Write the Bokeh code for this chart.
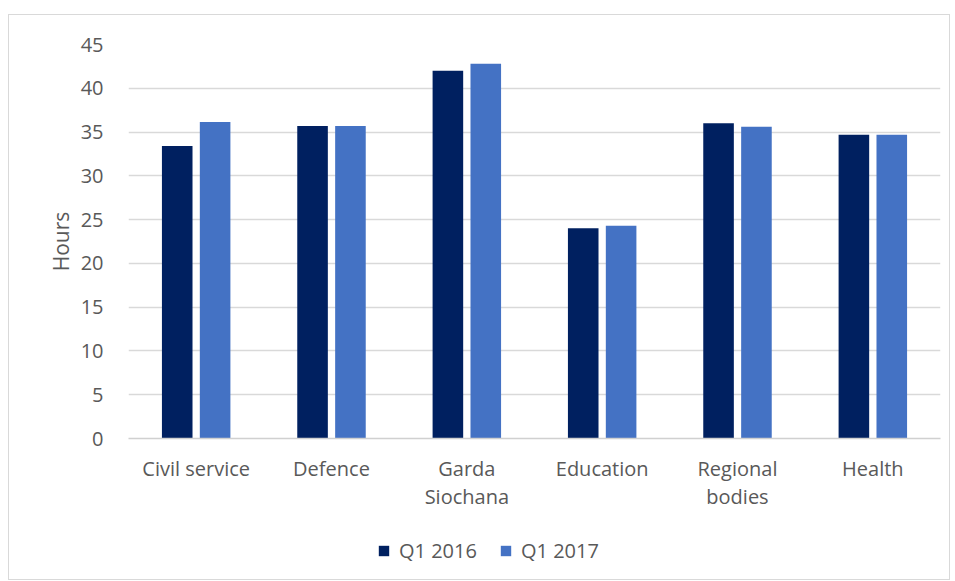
from bokeh.plotting import figure
from bokeh.layouts import column
from bokeh.models import ColumnDataSource, Legend, LegendItem, FixedTicker, Range1d
from bokeh.transform import dodge
from bokeh.embed import file_html
from bokeh.resources import INLINE

categories = ["Civil service", "Defence", "Garda\nSiochana", "Education", "Regional\nbodies", "Health"]
q1_2016 = [33.4, 35.7, 42.0, 24.0, 36.0, 34.7]
q1_2017 = [36.15, 35.7, 42.8, 24.3, 35.6, 34.7]
series_names = ["Q1 2016", "Q1 2017"]
series_colors = ["#002060", "#4472C4"]
y_ticks = [0, 5, 10, 15, 20, 25, 30, 35, 40, 45]

FONT = "Open Sans"
TXT = "#595959"

pos = [i + 0.5 for i in range(len(categories))]
src = ColumnDataSource(dict(pos=pos, a=q1_2016, b=q1_2017))

p = figure(x_range=(0, len(categories)), y_range=(0, 45), width=940, height=497,
           output_backend="svg", toolbar_location=None,
           min_border_left=119, min_border_right=9, min_border_top=29, min_border_bottom=72)
p.outline_line_color = None

p.vbar(x=dodge("pos", -0.14), top="a", width=0.226, source=src,
       fill_color=series_colors[0], line_color=None)
p.vbar(x=dodge("pos", 0.14), top="b", width=0.226, source=src,
       fill_color=series_colors[1], line_color=None)

p.yaxis.ticker = FixedTicker(ticks=y_ticks)
p.yaxis.axis_line_color = None
p.yaxis.major_tick_line_color = None
p.yaxis.minor_tick_line_color = None
p.yaxis.major_label_text_font = FONT
p.yaxis.major_label_text_font_size = "20px"
p.yaxis.major_label_text_color = TXT
p.yaxis.major_label_standoff = 19
p.yaxis.axis_label = "Hours"
p.yaxis.axis_label_text_font = FONT
p.yaxis.axis_label_text_font_size = "21px"
p.yaxis.axis_label_text_font_style = "normal"
p.yaxis.axis_label_text_color = TXT
p.yaxis.axis_label_standoff = 3

p.xaxis.ticker = FixedTicker(ticks=pos)
p.xaxis.major_label_overrides = {pos[i]: categories[i] for i in range(len(categories))}
p.xaxis.axis_line_color = "#d0d0d0"
p.xaxis.axis_line_width = 1.5
p.xaxis.major_tick_line_color = None
p.xaxis.minor_tick_line_color = None
p.xaxis.major_label_text_font = FONT
p.xaxis.major_label_text_font_size = "20px"
p.xaxis.major_label_text_color = TXT
p.xaxis.major_label_text_line_height = 1.05
p.xaxis.major_label_standoff = 10

p.xgrid.grid_line_color = None
p.ygrid.grid_line_color = "#d9d9d9"
p.ygrid.grid_line_width = 1.5

# legend strip (zero-width proxy bars outside its range; only the legend shows)
pl = figure(width=940, height=67, x_range=Range1d(100, 101), y_range=Range1d(100, 101),
            output_backend="svg", toolbar_location=None,
            min_border_left=0, min_border_right=0, min_border_top=0, min_border_bottom=0)
pl.axis.visible = False
pl.grid.visible = False
pl.outline_line_color = None
la = pl.vbar(x="pos", top="a", width=0, source=src, fill_color=series_colors[0], line_color=None)
lb = pl.vbar(x="pos", top="b", width=0, source=src, fill_color=series_colors[1], line_color=None)
legend = Legend(items=[LegendItem(label=series_names[0], renderers=[la]),
                       LegendItem(label=series_names[1], renderers=[lb])],
                orientation="horizontal", location=(249, 15),
                label_text_font=FONT, label_text_font_size="20px", label_text_color=TXT,
                glyph_width=13, glyph_height=13, spacing=22, label_standoff=9,
                padding=0, margin=0,
                border_line_color=None, background_fill_alpha=0)
pl.add_layout(legend, "center")

layout = column(p, pl, spacing=0, margin=(14, 0, 0, 8),
                styles={"border": "1px solid #d9d9d9"})

open("out.html", "w").write(file_html(layout, INLINE))
